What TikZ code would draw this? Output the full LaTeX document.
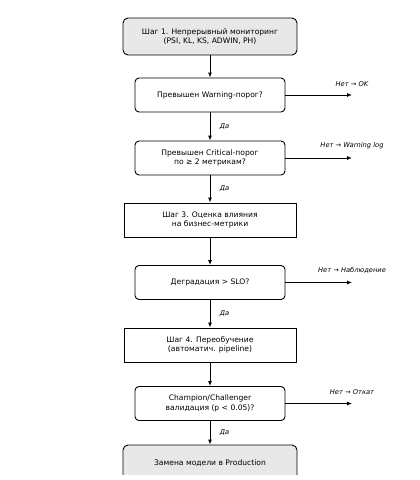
\documentclass[tikz,border=0pt]{standalone}
\usepackage{fontspec}
\setmainfont{DejaVu Sans}
\usetikzlibrary{arrows.meta}
\begin{document}
\begin{tikzpicture}[x=1pt,y=-1pt,
  box/.style={draw=black,line width=0.9pt,minimum width=150pt,minimum height=34pt,inner sep=0pt,align=center,font=\fontsize{7.6}{9.5}\selectfont},
  rbox/.style={box,rounded corners=4pt,fill=white},
  gbox/.style={box,rounded corners=5pt,fill=black!9,minimum width=174pt,minimum height=37pt},
  sbox/.style={box,minimum width=172pt},
  arr/.style={-{Latex[length=5pt,width=4pt]},line width=0.9pt},
  lab/.style={font=\fontsize{6.7}{8}\selectfont\itshape}]
\useasboundingbox (0,0) rectangle (420,480);
\begin{scope}
\clip (0,0) rectangle (420,474);
\node[gbox] (s1) at (210,36.5) {Шаг 1. Непрерывный мониторинг\\(PSI, KL, KS, ADWIN, PH)};
\node[rbox] (w) at (210,95) {Превышен Warning-порог?};
\node[rbox] (c) at (210,158) {Превышен Critical-порог\\по ≥ 2 метрикам?};
\node[sbox] (s3) at (210,220) {Шаг 3. Оценка влияния\\на бизнес-метрики};
\node[rbox] (d) at (210,282.5) {Деградация > SLO?};
\node[sbox] (s4) at (210,345) {Шаг 4. Переобучение\\(автоматич. pipeline)};
\node[rbox] (ch) at (210,403.5) {Champion/Challenger\\валидация (p < 0.05)?};
\node[gbox] (p) at (210,463.5) {Замена модели в Production};
\end{scope}
\coordinate (wo) at (352,95);
\coordinate (co) at (352,158);
\coordinate (do) at (352,282.5);
\coordinate (cho) at (352,403.5);
\draw[arr] (s1) -- (w);
\draw[arr] (w) -- node[lab,right=6pt] {Да} (c);
\draw[arr] (c) -- node[lab,right=6pt] {Да} (s3);
\draw[arr] (s3) -- (d);
\draw[arr] (d) -- node[lab,right=6pt] {Да} (s4);
\draw[arr] (s4) -- (ch);
\draw[arr] (ch) -- node[lab,right=6pt] {Да} (p.north);
\draw[arr] (w) -- (wo) node[lab,above=5pt,pos=1] {Нет → OK};
\draw[arr] (c) -- (co) node[lab,above=5pt,pos=1] {Нет → Warning log};
\draw[arr] (d) -- (do) node[lab,above=5pt,pos=1] {Нет → Наблюдение};
\draw[arr] (ch) -- (cho) node[lab,above=5pt,pos=1] {Нет → Откат};
\end{tikzpicture}
\end{document}
